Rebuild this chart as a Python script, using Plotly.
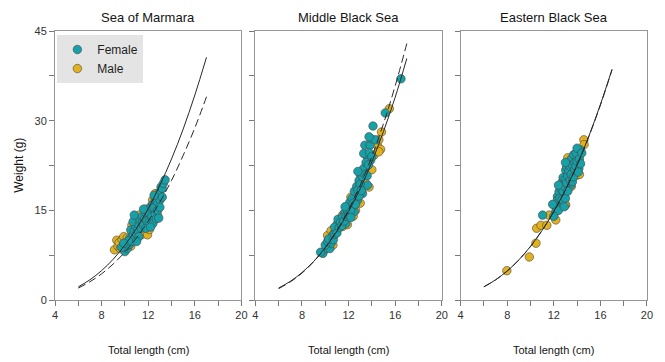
import plotly.graph_objects as go

# ---------------- data ----------------
regions = ["Sea of Marmara", "Middle Black Sea", "Eastern Black Sea"]

# fitted curves
curve_len = [6, 7, 8, 9, 10, 11, 12, 13, 14, 15, 16, 17]
marmara_female_curve = [2.2, 3.39, 4.92, 6.84, 9.19, 12.0, 15.3, 19.2, 23.6, 28.6, 34.3, 40.6]
marmara_male_curve = [2.0, 3.05, 4.38, 6.03, 8.03, 10.4, 13.2, 16.4, 20.0, 24.2, 28.8, 34.0]
middle_female_curve = [2.0, 3.12, 4.59, 6.44, 8.74, 11.5, 14.8, 18.6, 23.1, 28.2, 33.9, 40.4]
middle_male_curve = [1.9, 3.02, 4.50, 6.39, 8.77, 11.66, 15.1, 19.2, 24.0, 29.5, 35.8, 42.9]
eastern_female_curve = [2.2, 3.37, 4.85, 6.71, 8.97, 11.66, 14.8, 18.45, 22.6, 27.35, 32.7, 38.6]
eastern_male_curve = [2.2, 3.36, 4.84, 6.70, 8.95, 11.64, 14.78, 18.4, 22.55, 27.3, 32.6, 38.5]

# Sea of Marmara points
marmara_female_L = [10.0, 10.2, 10.1, 10.4, 10.4, 10.6, 10.5, 10.7, 10.8, 10.9, 10.7, 10.8, 11.0, 11.1, 11.2,
                    11.2, 11.3, 11.4, 11.5, 11.5, 11.6, 11.7, 11.8, 11.8, 11.9, 12.0, 12.1, 12.1, 12.2, 12.3,
                    12.4, 12.4, 12.5, 12.6, 12.6, 12.7, 12.8, 12.8, 12.9, 12.9, 13.0, 13.0, 13.1, 13.2, 13.2,
                    13.3, 13.45, 13.0, 12.2, 11.0, 10.3, 9.7, 9.9, 11.6, 12.5]
marmara_female_W = [8.1, 8.6, 9.0, 9.3, 10.3, 9.8, 11.7, 10.8, 11.5, 12.4, 13.1, 14.2, 11.0, 11.7, 10.6,
                    12.6, 13.3, 12.0, 13.1, 14.0, 12.5, 13.6, 12.0, 14.6, 13.2, 15.0, 14.5, 13.0, 15.6, 14.0,
                    12.8, 16.0, 15.4, 14.4, 16.8, 13.6, 15.0, 16.4, 17.5, 13.7, 18.1, 16.7, 18.9, 18.7, 17.2,
                    19.5, 20.1, 15.5, 12.2, 9.8, 9.9, 8.8, 9.5, 15.2, 17.5]
marmara_male_L = [9.1, 9.3, 9.4, 9.5, 9.76, 9.6, 9.9, 10.2, 10.6, 10.95, 11.23, 11.5, 11.74, 11.94, 12.1,
                  12.37, 12.6, 11.3, 10.5, 12.8]
marmara_male_W = [8.4, 10.0, 9.0, 9.6, 10.1, 8.6, 10.6, 10.4, 12.5, 10.0, 14.2, 11.0, 15.2, 10.9, 11.8,
                  16.7, 17.8, 12.2, 9.0, 14.2]

# Middle Black Sea points
middle_female_L = [9.8, 10.1, 10.4, 10.5, 10.64, 10.9, 11.06, 11.77, 11.63, 12.34, 12.49, 12.77, 12.64, 13.2,
                   13.62, 13.05, 13.53, 13.9, 13.53, 13.3, 13.4, 13.85, 13.9, 14.3, 13.76, 14.1, 15.15, 16.5,
                   9.6, 10.0, 10.2, 10.3, 10.7, 10.8, 10.8, 11.0, 11.1, 11.2, 11.3, 11.4, 11.5, 11.6, 11.8,
                   11.9, 12.0, 12.0, 12.1, 12.2, 12.3, 12.4, 12.5, 12.6, 12.7, 12.8, 12.9, 12.9, 13.0, 13.1,
                   13.2, 13.3, 13.4, 13.5, 13.6, 13.7, 13.8, 14.0, 12.2, 11.7, 12.8]
middle_female_W = [7.8, 8.6, 8.6, 9.5, 10.9, 11.7, 12.8, 12.8, 14.5, 15.9, 14.8, 16.7, 17.8, 17.8,
                   19.2, 21.2, 22.3, 23.4, 24.2, 24.5, 25.9, 25.9, 27.0, 26.8, 27.3, 29.1, 31.3, 37.0,
                   8.0, 9.2, 9.8, 10.2, 10.1, 11.0, 12.2, 11.2, 13.5, 12.1, 13.0, 12.4, 13.8, 13.2, 14.0,
                   15.0, 14.2, 15.6, 16.3, 15.0, 17.0, 16.2, 18.2, 16.0, 19.0, 18.4, 17.4, 20.0, 19.4, 18.3,
                   20.6, 22.0, 21.0, 23.0, 20.8, 22.6, 24.6, 24.0, 13.8, 15.6, 21.5]
middle_male_L = [10.38, 10.66, 11.49, 11.5, 13.76, 13.34, 14.18, 14.47, 14.83, 15.5, 14.6, 14.75, 14.6, 13.05,
                 10.2, 10.5, 11.2, 11.9, 12.4, 12.6, 12.2, 13.0, 13.5, 14.0, 12.9]
middle_male_W = [10.6, 9.2, 14.2, 12.3, 18.9, 21.7, 24.2, 25.9, 28.1, 32.0, 26.8, 25.2, 24.8, 20.6,
                 10.8, 11.6, 13.4, 12.6, 14.0, 15.0, 17.2, 16.2, 19.5, 21.8, 18.8]

# Eastern Black Sea points
eastern_female_L = [11.04, 12.17, 12.31, 12.6, 12.6, 12.31, 12.88, 12.45, 13.3, 12.74, 14.15, 13.59, 13.02,
                    13.73, 13.3, 14.15, 14.3, 13.45, 13.02, 12.2, 12.4, 12.5, 12.6, 12.7, 12.8, 12.8, 12.9,
                    13.0, 13.0, 13.1, 13.1, 13.2, 13.2, 13.3, 13.4, 13.4, 13.5, 13.5, 13.6, 13.6, 13.7, 13.7,
                    13.8, 13.8, 13.9, 13.9, 14.0, 14.0, 14.1, 14.2, 14.3, 14.4, 12.4, 13.0, 12.9, 11.9, 12.0]
eastern_female_W = [14.2, 14.8, 17.3, 16.4, 15.6, 16.7, 17.6, 18.1, 19.2, 19.8, 22.0, 21.5, 21.7,
                    23.4, 23.1, 24.2, 25.1, 19.2, 18.7, 15.5, 15.0, 17.0, 18.6, 16.8, 18.2, 20.5, 19.0,
                    17.0, 20.2, 19.6, 22.3, 18.2, 20.8, 21.6, 20.0, 22.4, 21.0, 23.6, 19.8, 22.6, 20.6, 24.3,
                    21.8, 23.0, 22.4, 24.6, 23.2, 25.4, 21.4, 23.6, 22.8, 24.6, 19.2, 23.0, 15.6, 16.0, 14.0]
eastern_male_L = [7.97, 9.9, 10.47, 10.53, 10.9, 11.4, 11.6, 12.17, 13.02, 12.96, 14.0, 14.0, 14.58, 14.6,
                  13.5, 13.2, 12.6, 14.2]
eastern_male_W = [4.9, 7.2, 9.5, 12.0, 12.5, 12.5, 14.2, 13.4, 15.9, 15.9, 20.9, 24.2, 26.8, 26.0,
                  19.0, 23.8, 18.0, 21.0]

x_tick_vals = [4, 6, 8, 10, 12, 14, 16, 18, 20]
x_tick_text = ["4", "", "8", "", "12", "", "16", "", "20"]
y_tick_vals = [0, 7.5, 15, 22.5, 30, 37.5, 45]
y_tick_text = ["0", "", "15", "", "30", "", "45"]

# ---------------- figure ----------------
FEMALE = "rgb(22,160,168)"
MALE = "rgb(226,178,30)"
EDGE = "rgb(70,70,70)"
FONT = "Liberation Sans, Arial, sans-serif"

panels = [
    (marmara_female_L, marmara_female_W, marmara_male_L, marmara_male_W, marmara_female_curve, marmara_male_curve),
    (middle_female_L, middle_female_W, middle_male_L, middle_male_W, middle_female_curve, middle_male_curve),
    (eastern_female_L, eastern_female_W, eastern_male_L, eastern_male_W, eastern_female_curve, eastern_male_curve),
]

domains = [[0.0, 0.315], [0.3384, 0.6533], [0.6851, 1.0]]

fig = go.Figure()
for i, (fL, fW, mL, mW, fc, mc) in enumerate(panels):
    xa = "x" if i == 0 else f"x{i+1}"
    ya = "y" if i == 0 else f"y{i+1}"
    fig.add_trace(go.Scatter(x=mL, y=mW, mode="markers", name="Male", xaxis=xa, yaxis=ya,
                             marker=dict(color=MALE, size=8.5, line=dict(color=EDGE, width=0.6)),
                             showlegend=(i == 0), legendrank=2))
    fig.add_trace(go.Scatter(x=fL, y=fW, mode="markers", name="Female", xaxis=xa, yaxis=ya,
                             marker=dict(color=FEMALE, size=8.5, line=dict(color=EDGE, width=0.6)),
                             showlegend=(i == 0), legendrank=1))
    fig.add_trace(go.Scatter(x=curve_len, y=fc, mode="lines", line=dict(color="rgb(40,40,40)", width=1, shape="spline"),
                             xaxis=xa, yaxis=ya, showlegend=False, hoverinfo="skip"))
    fig.add_trace(go.Scatter(x=curve_len, y=mc, mode="lines",
                             line=dict(color="rgb(40,40,40)", width=1, dash="8px,4px", shape="spline"),
                             xaxis=xa, yaxis=ya, showlegend=False, hoverinfo="skip"))

axis_common = dict(showgrid=False, zeroline=False, showline=True, mirror=True,
                   linecolor="rgb(150,150,150)", linewidth=1, ticks="outside", ticklen=5,
                   tickcolor="rgb(120,120,120)", tickfont=dict(size=11, color="rgb(50,50,50)", family=FONT))

# page body has an 8px default margin, so the figure is sized to fit the 665x362 window
layout = dict(width=657, height=354, margin=dict(l=47, r=13, t=23, b=62),
              plot_bgcolor="white", paper_bgcolor="white", font=dict(family=FONT),
              legend=dict(x=0.004, y=0.985, xanchor="left", yanchor="top", bgcolor="rgb(228,228,228)",
                          font=dict(size=12, color="rgb(30,30,30)", family=FONT), itemwidth=30,
                          tracegroupgap=0, borderwidth=0))
for i in range(3):
    xk = "xaxis" if i == 0 else f"xaxis{i+1}"
    yk = "yaxis" if i == 0 else f"yaxis{i+1}"
    layout[xk] = dict(axis_common, domain=domains[i], range=[4, 20], tickvals=x_tick_vals, ticktext=x_tick_text,
                      anchor="y" if i == 0 else f"y{i+1}")
    layout[yk] = dict(axis_common, domain=[0, 1], range=[0, 45], tickvals=y_tick_vals,
                      ticktext=y_tick_text if i == 0 else [""] * len(y_tick_vals),
                      anchor="x" if i == 0 else f"x{i+1}")
fig.update_layout(**layout)

ann = []
for i, name in enumerate(regions):
    cx = (domains[i][0] + domains[i][1]) / 2
    ann.append(dict(text=name, x=cx, y=1.052, xref="paper", yref="paper", showarrow=False,
                    xanchor="center", yanchor="middle", font=dict(size=13, color="rgb(20,20,20)", family=FONT)))
    ann.append(dict(text="Total length (cm)", x=cx, y=-0.186, xref="paper", yref="paper", showarrow=False,
                    xanchor="center", yanchor="middle", font=dict(size=11, color="rgb(20,20,20)", family=FONT)))
ann.append(dict(text="Weight (g)", x=-0.062, y=0.50, xref="paper", yref="paper", showarrow=False, textangle=-90,
                xanchor="center", yanchor="middle", font=dict(size=12, color="rgb(20,20,20)", family=FONT)))
fig.update_layout(annotations=ann)

fig.write_html("out.html")
